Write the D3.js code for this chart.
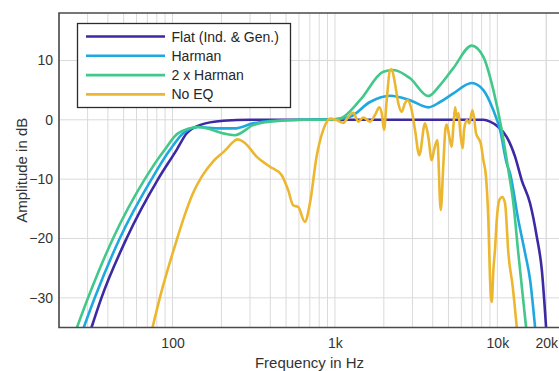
<!DOCTYPE html>
<html>
<head>
<meta charset="utf-8">
<script src="https://cdn.jsdelivr.net/npm/d3@7"></script>
<style>
  html, body { margin: 0; padding: 0; background: #fff; }
  svg { display: block; font-family: "Liberation Sans", Arial, sans-serif; }
</style>
</head>
<body>
<div id="chart"></div>
<script>
// [frequency in Hz, amplitude in dB]
const flat = [
  [31.7, -35], [36.5, -30], [52.1, -20], [81.5, -10], [105.8, -5.1], [122, -2.3],
  [147, -0.9], [205, -0.17], [300, 0], [1000, 0], [8200, 0], [9016, -0.3],
  [10140, -1.2], [11430, -2.9], [12850, -6.2], [14130, -10.2], [15910, -14.1],
  [17490, -19.7], [18780, -25.3], [19950, -35]
];
const harman = [
  [28.4, -35], [33.2, -30], [47.3, -20], [74.3, -10], [96.2, -5.1], [116, -2.3],
  [144, -1.2], [195, -1.45], [240, -1.45], [314, -0.6], [398, -0.2], [640, 0],
  [1000, 0.1], [1237, 0.5], [1644, 3.0], [2183, 4.05], [2899, 3.3], [3758, 2.1],
  [4436, 3.0], [5357, 4.45], [6954, 6.2], [8200, 5.0], [9450, 1.6], [10390, -1.7],
  [11430, -7.4], [11970, -9.0], [13460, -16.9], [14820, -22.5], [15910, -27.0],
  [17070, -35]
];
const harman2 = [
  [25.8, -35], [30.2, -30], [43.0, -20], [67.5, -10], [89.7, -5], [108, -2.3],
  [144, -1.2], [215, -2.4], [242, -2.6], [314, -0.9], [398, -0.3], [640, 0],
  [931, 0], [1074, 0.2], [1426, 3.3], [1984, 8.1], [2287, 8.4], [2899, 7.0],
  [3758, 4.0], [4436, 5.85], [5357, 8.7], [6954, 12.5], [8200, 10.6], [9450, 5.0],
  [10640, -1.7], [11690, -8.5], [12550, -14.1], [13460, -22.5], [15030, -35]
];
const noEq = [
  [75.3, -35], [83.5, -30], [106, -20.3], [117, -16.6], [133, -12.5], [152, -9.5],
  [178, -7], [210, -5.2], [235, -3.8], [250, -3.3], [279, -3.9], [329, -6.2],
  [398, -7.9], [469, -9.3], [516, -11.9], [553, -14.4], [594, -14.7], [653, -17.2],
  [701, -14.1], [771, -6.2], [847, -1.7], [909, 0], [931, 0.2], [1024, -0.05],
  [1125, -0.5], [1208, 0.5], [1296, 1.2], [1392, -0.3], [1494, 0.4], [1644, -0.3],
  [1764, 0.8], [1875, 2.1], [1940, 1.1], [2004, -1.7], [2083, 3.3], [2183, 8.4],
  [2234, 8.5], [2343, 6.1], [2455, 2.8], [2576, 1.35], [2699, 2.8], [2789, 3.3],
  [2969, 1.6], [3111, -1.7], [3307, -5.95], [3585, -0.6], [3758, -2.9], [3943, -6.8],
  [4074, -5.1], [4269, -3.4], [4480, -15.2], [4650, -7.5], [4790, -1.5], [4880, -0.8],
  [5063, -2.9], [5237, -4.55], [5357, -1.2], [5488, 2.1], [5621, 0.5], [5750, 1.1],
  [5949, -2.9], [6120, -4.8], [6234, -1.7], [6477, -0.05], [6720, -0.6], [7015, 1.6],
  [7216, -0.05], [7393, -2.3], [7638, -3.1], [7903, -4.0], [8199, -6.8], [8513, -9.6],
  [8802, -16.9], [9016, -27], [9237, -30.7], [9449, -25.3], [9679, -21.7], [9914, -16.9],
  [10290, -13.5], [10735, -13.0], [11154, -14.1], [11690, -22.5], [12440, -28.2],
  [13170, -35]
];

const seriesNames = ['Flat (Ind. & Gen.)', 'Harman', '2 x Harman', 'No EQ'];
const seriesColors = ['#3b2aa3', '#1fa8e0', '#41c88a', '#ecb72f'];
const seriesData = [flat, harman, harman2, noEq];

const xTickValues = [100, 1000, 10000, 20000];
const xTickLabels = ['100', '1k', '10k', '20k'];
const yTickValues = [-30, -20, -10, 0, 10];

const width = 559, height = 371;
const margin = { top: 13, right: -3, bottom: 43.5, left: 59 };

const svg = d3.select('#chart').append('svg')
  .attr('width', width)
  .attr('height', height);

const x = d3.scaleLog().domain([20, 25000]).range([margin.left, width - margin.right]);
const y = d3.scaleLinear().domain([-35, 18]).range([height - margin.bottom, margin.top]);

// minor + major grid on the log axis
const gridFreqs = [];
[10, 100, 1000, 10000].forEach(dec => {
  for (let m = 1; m <= 9; m++) {
    const f = dec * m;
    if (f >= 20 && f <= 25000) gridFreqs.push(f);
  }
});
gridFreqs.push(20000);

const grid = svg.append('g').attr('class', 'grid');
grid.selectAll('line.v')
  .data(gridFreqs)
  .enter().append('line')
  .attr('class', 'v')
  .attr('x1', d => x(d)).attr('x2', d => x(d))
  .attr('y1', y(18)).attr('y2', y(-35))
  .attr('stroke', '#dadada')
  .attr('stroke-width', 1);
grid.selectAll('line.h')
  .data(yTickValues)
  .enter().append('line')
  .attr('class', 'h')
  .attr('x1', x(20)).attr('x2', x(25000))
  .attr('y1', d => y(d)).attr('y2', d => y(d))
  .attr('stroke', '#dadada')
  .attr('stroke-width', 1);

svg.append('clipPath').attr('id', 'plotclip')
  .append('rect')
  .attr('x', x(20)).attr('y', y(18))
  .attr('width', x(25000) - x(20))
  .attr('height', y(-35) - y(18));

const line = d3.line()
  .x(d => x(d[0]))
  .y(d => y(d[1]))
  .curve(d3.curveMonotoneX);

svg.append('g')
  .attr('clip-path', 'url(#plotclip)')
  .selectAll('path')
  .data(seriesData)
  .enter().append('path')
  .attr('d', line)
  .attr('fill', 'none')
  .attr('stroke', (d, i) => seriesColors[i])
  .attr('stroke-width', 2.6)
  .attr('stroke-linejoin', 'round');

// axes
const xAxis = svg.append('g')
  .attr('transform', `translate(0,${y(-35)})`)
  .call(d3.axisBottom(x).tickValues(xTickValues)
    .tickFormat((d, i) => xTickLabels[i]).tickSize(0).tickPadding(11));
xAxis.select('.domain').remove();
xAxis.selectAll('text').attr('font-size', 14).attr('fill', '#333')
  .attr('font-family', '"Liberation Sans", Arial, sans-serif');

const yAxis = svg.append('g')
  .attr('transform', `translate(${x(20)},0)`)
  .call(d3.axisLeft(y).tickValues(yTickValues).tickSize(0).tickPadding(6));
yAxis.select('.domain').remove();
yAxis.selectAll('text').attr('font-size', 14).attr('fill', '#333')
  .attr('font-family', '"Liberation Sans", Arial, sans-serif');

// frame (right edge sits just outside the picture)
svg.append('path')
  .attr('d', `M${x(25000)},${y(18)}H${x(20)}V${y(-35)}H${x(25000)}`)
  .attr('fill', 'none')
  .attr('stroke', '#4a4a4a')
  .attr('stroke-width', 1.6);

// axis labels
svg.append('text')
  .attr('x', (x(20) + x(25000)) / 2 - 1)
  .attr('y', 368)
  .attr('text-anchor', 'middle')
  .attr('font-size', 15)
  .attr('fill', '#333')
  .text('Frequency in Hz');

svg.append('text')
  .attr('transform', `translate(27,${(y(18) + y(-35)) / 2}) rotate(-90)`)
  .attr('text-anchor', 'middle')
  .attr('font-size', 15)
  .attr('fill', '#333')
  .text('Amplitude in dB');

// legend
const legend = svg.append('g');
legend.append('rect')
  .attr('x', 77.5).attr('y', 23.5)
  .attr('width', 213).attr('height', 84)
  .attr('fill', '#fff')
  .attr('stroke', '#2b2b2b')
  .attr('stroke-width', 1.3);

const rows = legend.selectAll('g.row')
  .data(seriesNames)
  .enter().append('g')
  .attr('class', 'row')
  .attr('transform', (d, i) => `translate(0,${36.5 + i * 19.3})`);
rows.append('line')
  .attr('x1', 86).attr('x2', 165)
  .attr('y1', 0).attr('y2', 0)
  .attr('stroke', (d, i) => seriesColors[i])
  .attr('stroke-width', 2.6);
rows.append('text')
  .attr('x', 171.5)
  .attr('y', 5)
  .attr('font-size', 14)
  .attr('fill', '#262626')
  .text(d => d);
</script>
</body>
</html>
